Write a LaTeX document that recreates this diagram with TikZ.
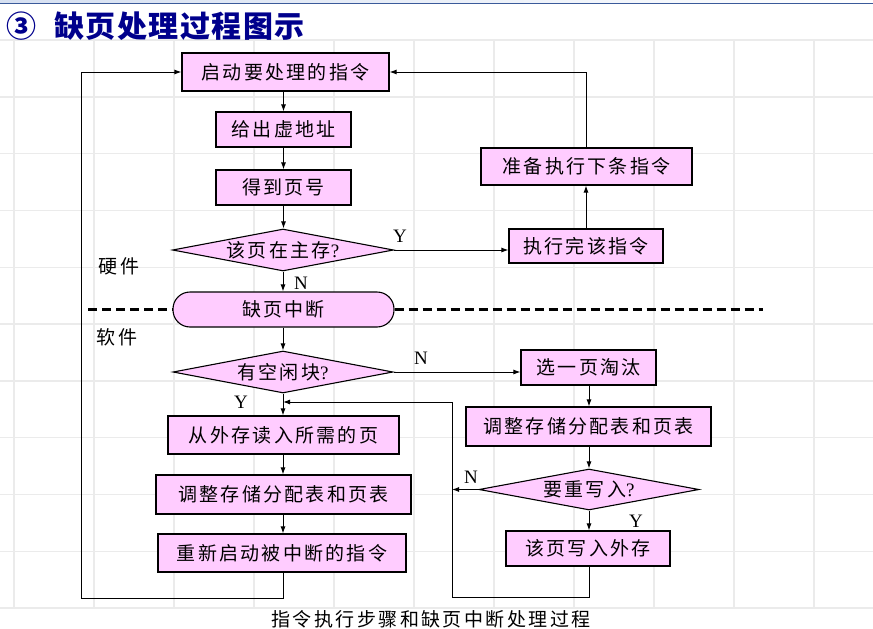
\documentclass[tikz,border=0pt]{standalone}
\usepackage{fontspec}
\setmainfont{Liberation Serif}
\newfontfamily\cjk{Noto Sans CJK SC}[LetterSpace=12]
\newfontfamily\cjkcap{Noto Sans CJK SC}[LetterSpace=13]
\newfontfamily\cjktitle{Noto Sans CJK SC}[LetterSpace=5]
\usetikzlibrary{shapes.geometric,arrows.meta}
\definecolor{boxpink}{HTML}{FFCCFF}
\definecolor{gridgray}{HTML}{EBEBEB}
\definecolor{titleblue}{RGB}{0,0,140}
\definecolor{barblue}{HTML}{5A82C8}
\definecolor{barline}{HTML}{3A5A9A}
\newcommand{\qm}{{\rmfamily ?}}
\begin{document}
\begin{tikzpicture}[x=1pt,y=-1pt,
  proc/.style={draw=black, line width=1.1pt, fill=boxpink, inner sep=0pt,
    font=\cjk\fontsize{19}{21}\selectfont},
  stadium/.style={proc, rounded corners=17pt},
  decision/.style={proc, diamond},
  arr/.style={line width=1pt, -{Latex[length=7pt,width=5pt]}},
  conn/.style={line width=1pt},
  yn/.style={font=\fontsize{19}{20}\selectfont, inner sep=0pt},
  side/.style={font=\cjk\fontsize{19}{21}\selectfont, inner sep=0pt},
  dashline/.style={line width=2.2pt, dash pattern=on 9pt off 5pt},
]
\useasboundingbox (0,0) rectangle (873,629);

% background grid
\foreach \gx in {14,94,...,814} \draw[gridgray, line width=1.4pt] (\gx,40) -- (\gx,608);
\foreach \k in {0,...,10} \draw[gridgray, line width=1.4pt] (0,40+56.8*\k) -- (873,40+56.8*\k);

% header bar
\shade[left color=barblue!25, middle color=barblue, right color=white] (0,0) rectangle (873,3);
\draw[barline, line width=1pt] (0,3.5) -- (873,3.5);

% title
\node[anchor=west, inner sep=0pt, text=titleblue, font=\cjktitle\bfseries\fontsize{30}{32}\selectfont] (title) at (6,26) {③\hspace{18pt}缺页处理过程图示};

% main column
\node[proc, minimum width=207, minimum height=38] (start) at (285.5,72) {启动要处理的指令};
\node[proc, minimum width=135, minimum height=35] (vaddr) at (283.5,129.5) {给出虚地址};
\node[proc, minimum width=135, minimum height=35] (pageno) at (283.5,187.5) {得到页号};
\node[decision, minimum width=221, minimum height=42] (inmem) at (283,250) {\makebox[0pt]{该页在主存\qm}};
\node[stadium, minimum width=221, minimum height=35] (fault) at (283.5,309.5) {缺页中断};
\node[decision, minimum width=220, minimum height=42] (free) at (283,372) {\makebox[0pt]{有空闲块\qm}};
\node[proc, minimum width=231, minimum height=38] (readin) at (283.5,435) {从外存读入所需的页};
\node[proc, minimum width=255, minimum height=39] (adjL) at (283.5,494.5) {调整存储分配表和页表};
\node[proc, minimum width=248, minimum height=38] (restart) at (282,553) {重新启动被中断的指令};

% right column, upper part
\node[proc, minimum width=211, minimum height=37] (next) at (586.5,166.5) {准备执行下条指令};
\node[proc, minimum width=154, minimum height=34] (finish) at (586,246) {执行完该指令};

% right column, lower part
\node[proc, minimum width=135, minimum height=35] (evict) at (588.5,367.5) {选一页淘汰};
\node[proc, minimum width=245, minimum height=39] (adjR) at (588.5,426.5) {调整存储分配表和页表};
\node[decision, minimum width=220, minimum height=41] (rewrite) at (589,489.5) {\makebox[0pt]{要重写入\qm}};
\node[proc, minimum width=164, minimum height=35] (writeout) at (588,548.5) {该页写入外存};

% side labels
\node[side] (hw) at (119,266) {硬件};
\node[side] (sw) at (117,337) {软件};

% hardware / software divider
\coordinate (dashL) at (88,309.5);
\coordinate (dashR) at (763,309.5);
\draw[dashline] (dashL) -- (fault.west);
\draw[dashline] (fault.east) -- (dashR);

% main column arrows
\draw[arr] (vaddr.north |- start.south) -- (vaddr.north);
\draw[arr] (vaddr.south) -- (pageno.north);
\draw[arr] (pageno.south) -- (pageno.south |- inmem.north);
\draw[arr] (inmem.south) -- (inmem.south |- fault.north);
\draw[arr] (inmem.south |- fault.south) -- (free.north);
\draw[arr] (free.south) -- (free.south |- readin.north);
\draw[arr] (free.south |- readin.south) -- (free.south |- adjL.north);
\draw[arr] (free.south |- adjL.south) -- (free.south |- restart.north);

% return loop from restart to start
\coordinate (loopBL) at (81,598);
\draw[arr] (free.south |- restart.south) |- (loopBL) |- (start.west);

% page present branch
\draw[arr] (inmem.east) -- (inmem.east -| finish.west);
\draw[arr] (finish.north) -- (finish.north |- next.south);
\draw[arr] (next.north) |- (start.east);

% no free frame branch
\draw[arr] (free.east) -- (free.east -| evict.west);
\draw[arr] (evict.south -| rewrite.north) -- (rewrite.north |- adjR.north);
\draw[arr] (rewrite.north |- adjR.south) -- (rewrite.north);
\draw[arr] (rewrite.south) -- (rewrite.south |- writeout.north);

% rejoin path
\coordinate (joinTop) at (452,402);
\coordinate (joinBot) at (452,597);
\draw[arr] (rewrite.west) -- (rewrite.west -| joinTop);
\draw[conn] (rewrite.south |- writeout.south) |- (joinBot) -- (joinTop);
\draw[arr] (joinTop) -- (joinTop -| free.south);

% branch labels
\node[yn] (yInmem) at (400,236) {Y};
\node[yn] (nInmem) at (301,283) {N};
\node[yn] (nFree) at (421,358) {N};
\node[yn] (yFree) at (241,402) {Y};
\node[yn] (nRewrite) at (471,477) {N};
\node[yn] (yRewrite) at (636,521) {Y};

% caption
\node[font=\cjkcap\fontsize{19}{21}\selectfont, inner sep=0pt] (caption) at (431,619) {指令执行步骤和缺页中断处理过程};
\end{tikzpicture}
\end{document}
